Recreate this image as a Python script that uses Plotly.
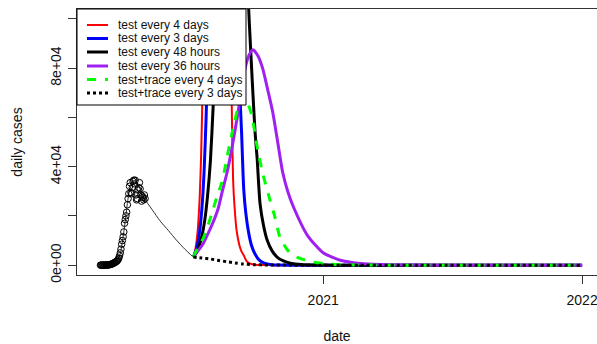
import plotly.graph_objects as go
import pandas as pd

# ---------------- data ----------------
obs_start = "2020-02-22"
obs_values = [0, 0, 0, 10, 10, 20, 20, 30,
              40, 60, 80, 100, 150, 200, 250, 350, 450, 600,
              700, 900, 1000, 1200, 1400, 1600, 1900, 2300, 2900,
              3800, 5000, 6500, 8500, 10000, 11500, 13500, 17000, 18500, 20000, 21500, 24500,
              27000, 29000, 32000, 33500, 29500, 29000, 31500, 34000, 34500, 33000, 34500,
              28500, 26500, 27000, 30500, 31500, 33500, 31000, 28500, 26000, 28000, 27500,
              26500, 28500, 27000]

model_dates = ["2020-02-22", "2020-03-01", "2020-03-08", "2020-03-15", "2020-03-19", "2020-03-22",
               "2020-03-25", "2020-03-28", "2020-03-31", "2020-04-03", "2020-04-07", "2020-04-12",
               "2020-04-17", "2020-04-22", "2020-05-05", "2020-05-16", "2020-05-28", "2020-06-08",
               "2020-06-20", "2020-07-02"]
model_values = [0, 50, 250, 1300, 2800, 6000, 11500, 18000, 25000, 30500, 33000, 34000,
                31500, 27900, 22500, 18000, 14000, 10200, 6500, 3265]

red_dates = ["2020-07-02", "2020-07-05", "2020-07-08", "2020-07-11", "2020-07-13", "2020-07-15",
             "2020-07-17", "2020-07-20", "2020-08-05", "2020-08-19", "2020-08-23", "2020-08-25",
             "2020-08-27", "2020-08-29", "2020-09-01", "2020-09-05", "2020-09-08", "2020-09-11",
             "2020-09-15", "2020-09-20", "2020-09-30", "2020-10-15", "2020-11-01", "2022-01-01"]
red_values = [3265, 6700, 13600, 28000, 45000, 72000, 115000, 200000, 400000, 250000, 125000, 67400,
              35000, 24000, 14000, 8000, 5500, 4000, 1600, 600, 100, 10, 0, 0]

blue_dates = ["2020-07-02", "2020-07-05", "2020-07-08", "2020-07-11", "2020-07-14", "2020-07-17",
              "2020-07-20", "2020-07-22", "2020-07-24", "2020-07-27", "2020-08-16", "2020-08-31",
              "2020-09-03", "2020-09-06", "2020-09-08", "2020-09-11", "2020-09-14", "2020-09-18",
              "2020-09-22", "2020-09-27", "2020-10-03", "2020-10-10", "2020-10-20", "2020-11-01",
              "2020-11-20", "2022-01-01"]
blue_values = [3265, 5300, 8600, 14000, 22800, 37000, 60000, 82000, 112000, 180000, 350000, 220000,
               130000, 67400, 53900, 31000, 21000, 13100, 8000, 4500, 2000, 800, 200, 40, 0, 0]

black_dates = ["2020-07-02", "2020-07-06", "2020-07-10", "2020-07-14", "2020-07-18", "2020-07-22",
               "2020-07-26", "2020-07-30", "2020-08-03", "2020-08-07", "2020-08-21", "2020-09-05",
               "2020-09-13", "2020-09-16", "2020-09-18", "2020-09-20", "2020-09-23", "2020-09-27",
               "2020-09-30", "2020-10-04", "2020-10-09", "2020-10-14", "2020-10-21", "2020-10-28",
               "2020-11-06", "2020-11-16", "2020-12-01", "2020-12-20", "2021-01-15", "2021-02-15",
               "2022-01-01"]
black_values = [3265, 5000, 7700, 11800, 18000, 28000, 42000, 65000, 98000, 140000, 260000, 220000,
                150000, 125000, 104000, 92000, 75000, 54000, 43000, 25000, 16000, 10200, 5800, 3300,
                1700, 800, 250, 60, 5, 0, 0]

purple_dates = ["2020-07-02", "2020-07-09", "2020-07-16", "2020-07-23", "2020-07-30", "2020-08-06",
                "2020-08-11", "2020-08-18", "2020-08-25", "2020-09-03", "2020-09-08", "2020-09-13",
                "2020-09-18", "2020-09-24", "2020-10-01", "2020-10-08", "2020-10-15", "2020-10-22",
                "2020-10-29", "2020-11-05", "2020-11-12", "2020-11-20", "2020-12-10", "2021-01-01",
                "2021-01-25", "2021-02-22", "2021-03-22", "2021-05-18", "2021-07-01", "2022-01-01"]
purple_values = [3265, 6000, 8800, 13000, 17500, 23000, 29000, 37000, 46900, 62000, 72000, 80000,
                 85000, 87500, 85000, 79600, 71000, 62000, 49800, 37600, 30000, 23700, 12000, 5000,
                 2000, 700, 250, 30, 0, 0]

green_dates = ["2020-07-02", "2020-07-05", "2020-07-09", "2020-07-16", "2020-07-22", "2020-07-28",
               "2020-08-04", "2020-08-11", "2020-08-16", "2020-08-20", "2020-08-27", "2020-09-03",
               "2020-09-07", "2020-09-11", "2020-09-15", "2020-09-19", "2020-09-23", "2020-09-30",
               "2020-10-08", "2020-10-18", "2020-10-25", "2020-11-01", "2020-11-12", "2020-11-25",
               "2020-12-18", "2021-01-11", "2021-02-15", "2021-04-01", "2022-01-01"]
green_values = [3265, 5200, 7300, 11000, 15500, 21000, 27500, 33500, 40000, 46000, 55500, 64000,
                67500, 68500, 67000, 64000, 60000, 48000, 37000, 26500, 19500, 11400, 6000, 3265,
                1200, 400, 60, 0, 0]

dotted_dates = ["2020-07-02", "2020-07-14", "2020-07-26", "2020-08-07", "2020-08-18", "2020-08-30",
                "2020-09-10", "2020-09-25", "2020-10-15", "2020-11-15", "2022-01-01"]
dotted_values = [3265, 2900, 2500, 1900, 1400, 900, 500, 200, 60, 10, 0]

series_names = ["test every 4 days", "test every 3 days", "test every 48 hours",
                "test every 36 hours", "test+trace every 4 days", "test+trace every 3 days"]

x_tick_dates = ["2021-01-01", "2022-01-01"]
x_tick_labels = ["2021", "2022"]
y_tick_values = [0, 20000, 40000, 60000, 80000, 100000]
y_tick_labels = ["0e+00", "", "4e+04", "", "8e+04", ""]

# ---------------- styles ----------------
styles = [
    dict(color="#FF0000", width=2, dash="solid"),
    dict(color="#0000FF", width=3, dash="solid"),
    dict(color="#000000", width=3, dash="solid"),
    dict(color="#A020F0", width=3, dash="solid"),
    dict(color="#00FF00", width=3, dash="dash"),
    dict(color="#000000", width=3, dash="dot"),
]
series = [(red_dates, red_values), (blue_dates, blue_values), (black_dates, black_values),
          (purple_dates, purple_values), (green_dates, green_values), (dotted_dates, dotted_values)]

FONT = "Liberation Sans, Arial, sans-serif"
W, H = 597, 344
ML, MR, MT, MB = 77, 0, 9, 69
PW, PH = W - ML - MR, H - MT - MB


def px_x(px):
    return (px - ML) / PW


def px_y(py):
    return (H - MB - py) / PH


fig = go.Figure()

fig.add_trace(go.Scatter(x=model_dates, y=model_values, mode="lines",
                         line=dict(color="#333333", width=1, shape="spline", smoothing=0.6),
                         showlegend=False))
obs_dates = pd.date_range(obs_start, periods=len(obs_values), freq="D")
fig.add_trace(go.Scatter(x=obs_dates, y=obs_values, mode="markers",
                         marker=dict(symbol="circle-open", size=6.5, color="black",
                                     line=dict(width=1, color="black")),
                         showlegend=False))

for name, (dts, vals), st in zip(series_names, series, styles):
    fig.add_trace(go.Scatter(x=dts, y=vals, mode="lines", name=name,
                             line=dict(color=st["color"], width=st["width"], dash=st["dash"],
                                       shape="spline", smoothing=0.6),
                             showlegend=False))

# ---------------- manual legend (R style) ----------------
shapes = [dict(type="rect", xref="paper", yref="paper",
               x0=px_x(77), x1=px_x(246), y0=px_y(105), y1=px_y(9),
               fillcolor="white", line=dict(color="black", width=1), layer="above")]
annotations = []
item_y = [25, 38.5, 52, 66, 79.5, 93]
for name, st, py in zip(series_names, styles, item_y):
    shapes.append(dict(type="line", xref="paper", yref="paper",
                       x0=px_x(87), x1=px_x(108), y0=px_y(py), y1=px_y(py),
                       line=dict(color=st["color"], width=st["width"], dash=st["dash"]),
                       layer="above"))
    annotations.append(dict(text=name, xref="paper", yref="paper", x=px_x(116), y=px_y(py),
                            xanchor="left", yanchor="middle", showarrow=False,
                            font=dict(family=FONT, size=12, color="#111111")))

fig.update_layout(
    width=W, height=H,
    margin=dict(l=ML, r=MR, t=MT, b=MB),
    paper_bgcolor="white", plot_bgcolor="white",
    showlegend=False,
    shapes=shapes, annotations=annotations,
    font=dict(family=FONT, size=14, color="#111111"),
)
fig.update_xaxes(
    type="date", range=["2020-01-20", "2022-01-22"],
    showgrid=False, zeroline=False,
    showline=True, linecolor="#333333", linewidth=1, mirror=True,
    ticks="outside", ticklen=8, tickcolor="#333333",
    tickvals=x_tick_dates, ticktext=x_tick_labels,
    tickfont=dict(family=FONT, size=14, color="#111111"),
    ticklabelstandoff=4, ticklabeloverflow="allow",
    title=dict(text="date", font=dict(family=FONT, size=14, color="#111111"), standoff=26),
    automargin=False,
)
fig.update_yaxes(
    range=[-4000, 104000],
    showgrid=False, zeroline=False,
    showline=True, linecolor="#333333", linewidth=1,
    ticks="outside", ticklen=8, tickcolor="#333333",
    tickvals=y_tick_values, ticktext=y_tick_labels, tickangle=-90,
    tickfont=dict(family=FONT, size=14, color="#111111"),
    ticklabelstandoff=1,
    title=dict(text="daily cases", font=dict(family=FONT, size=14, color="#111111"), standoff=22),
    automargin=False,
)

fig.write_html("out.html")
